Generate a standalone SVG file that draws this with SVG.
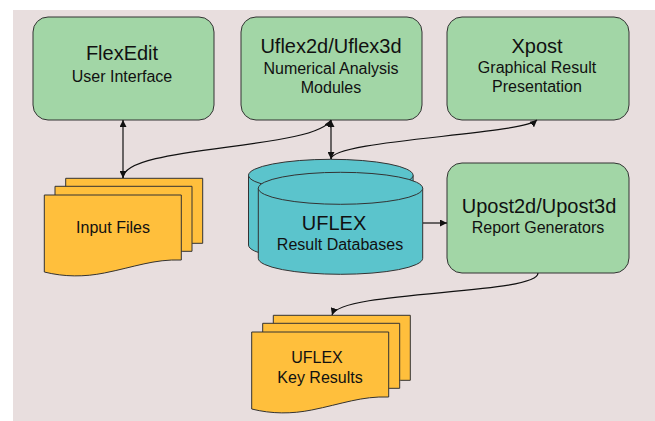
<svg xmlns="http://www.w3.org/2000/svg" xmlns:xlink="http://www.w3.org/1999/xlink" width="655" height="421" viewBox="0 0 655 421">
<style>
.box{fill:#A2D6A6;stroke:#333;stroke-width:1}
.doc{fill:#FFBF3C;stroke:#333;stroke-width:1}
.cyl{fill:#5BC4CC;stroke:#333;stroke-width:1}
.t{font-family:"Liberation Sans",Arial,sans-serif;fill:#111;text-anchor:middle}
.h{font-size:20px}
.s{font-size:16px}
.c{fill:none;stroke:#111;stroke-width:1.2}
</style>
<defs>
<marker id="ah" viewBox="0 0 10 10" refX="10" refY="5" markerWidth="7" markerHeight="7" markerUnits="userSpaceOnUse" orient="auto-start-reverse">
<path d="M0,0 L10,5 L0,10 Z" fill="#111"/>
</marker>
<path id="docshape" d="M0,0 H137 V65 C110,64 90,72 60,78 C40,82 20,82 0,77 Z"/>
</defs>
<rect x="0" y="0" width="655" height="421" fill="#ffffff"/>
<rect x="13" y="10" width="642" height="411" fill="#E8DEDE"/>

<g id="flexedit">
<rect class="box" x="33" y="17" width="181" height="103" rx="15" ry="15"/>
<text class="t h" x="122" y="60">FlexEdit</text>
<text class="t s" x="122" y="82">User Interface</text>
</g>

<g id="uflex">
<rect class="box" x="241" y="17" width="181" height="103" rx="15" ry="15"/>
<text class="t h" x="331" y="53">Uflex2d/Uflex3d</text>
<text class="t s" x="331" y="74">Numerical Analysis</text>
<text class="t s" x="331" y="93">Modules</text>
</g>

<g id="xpost">
<rect class="box" x="447" y="17" width="182" height="103" rx="15" ry="15"/>
<text class="t h" x="537" y="53">Xpost</text>
<text class="t s" x="537" y="73">Graphical Result</text>
<text class="t s" x="537" y="92">Presentation</text>
</g>

<g id="upost">
<rect class="box" x="447" y="163" width="182" height="110" rx="15" ry="15"/>
<text class="t h" x="539" y="213">Upost2d/Upost3d</text>
<text class="t s" x="538" y="233">Report Generators</text>
</g>

<g id="inputfiles">
<use xlink:href="#docshape" class="doc" x="65.7" y="178.3"/>
<use xlink:href="#docshape" class="doc" x="55" y="186.3"/>
<use xlink:href="#docshape" class="doc" x="44.3" y="195"/>
<text class="t s" x="113" y="233">Input Files</text>
</g>

<g id="keyresults">
<use xlink:href="#docshape" class="doc" x="273.3" y="315.3"/>
<use xlink:href="#docshape" class="doc" x="262.7" y="323.3"/>
<use xlink:href="#docshape" class="doc" x="251.7" y="332"/>
<text class="t s" x="317" y="363">UFLEX</text>
<text class="t s" x="320" y="383">Key Results</text>
</g>

<g id="databases">
<path class="cyl" d="M248.5,175.3 A82.3,16 0 0 1 413.1,175.3 V245 A82.3,16 0 0 1 248.5,245 Z"/>
<path class="cyl" d="M248.5,175.3 A82.3,16 0 0 0 413.1,175.3"/>
<path class="cyl" d="M258.3,188.3 A82.2,16 0 0 1 422.7,188.3 V258.3 A82.2,16 0 0 1 258.3,258.3 Z"/>
<path class="cyl" d="M258.3,188.3 A82.2,16 0 0 0 422.7,188.3"/>
<text class="t h" x="334" y="230">UFLEX</text>
<text class="t s" x="340" y="250">Result Databases</text>
</g>

<g id="connectors">
<line class="c" x1="123" y1="120" x2="123" y2="178" marker-start="url(#ah)" marker-end="url(#ah)"/>
<path class="c" d="M123,178 C123,145 315,150 331,120" marker-end="url(#ah)"/>
<line class="c" x1="331" y1="120" x2="331" y2="159" marker-start="url(#ah)" marker-end="url(#ah)"/>
<path class="c" d="M331,159 C331,140 520,135 537,120" marker-end="url(#ah)"/>
<line class="c" x1="423" y1="223" x2="447" y2="223" marker-end="url(#ah)"/>
<path class="c" d="M538,273 C538,295 340,290 332,315" marker-end="url(#ah)"/>
</g>
</svg>
